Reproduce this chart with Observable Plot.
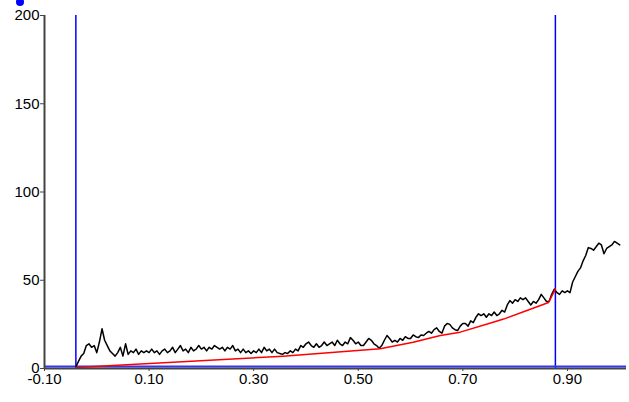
<!DOCTYPE html>
<html><head><meta charset="utf-8">
<script src="https://cdn.jsdelivr.net/npm/d3@7"></script>
<script src="https://cdn.jsdelivr.net/npm/@observablehq/plot@0.6"></script>
<style>
body{margin:0;background:#fff;font-family:"Liberation Sans",Arial,sans-serif}
#wrap{position:relative;width:629px;height:402px;overflow:hidden}
#legdot{position:absolute;left:16px;top:-2px;width:8px;height:8px;border-radius:50%;background:#0000ff}
</style>
</head><body><div id="wrap"><div id="legdot"></div></div>
<script>
// Measured signal (black trace)
const signalX = [-0.040,-0.035,-0.030,-0.025,-0.020,-0.015,-0.010,-0.005,0.000,0.005,
0.010,0.015,0.020,0.025,0.030,0.035,0.040,0.045,0.050,0.055,
0.060,0.065,0.070,0.075,0.080,0.085,0.090,0.095,0.100,0.105,
0.110,0.115,0.120,0.125,0.130,0.135,0.140,0.145,0.150,0.155,
0.160,0.165,0.170,0.175,0.180,0.185,0.190,0.195,0.200,0.205,
0.210,0.215,0.220,0.225,0.230,0.235,0.240,0.245,0.250,0.255,
0.260,0.265,0.270,0.275,0.280,0.285,0.290,0.295,0.300,0.305,
0.310,0.315,0.320,0.325,0.330,0.335,0.340,0.345,0.350,0.355,
0.360,0.365,0.370,0.375,0.380,0.385,0.390,0.395,0.400,0.405,
0.410,0.415,0.420,0.425,0.430,0.435,0.440,0.445,0.450,0.455,
0.460,0.465,0.470,0.475,0.480,0.485,0.490,0.495,0.500,0.505,
0.510,0.515,0.520,0.525,0.530,0.535,0.540,0.545,0.550,0.555,
0.560,0.565,0.570,0.575,0.580,0.585,0.590,0.595,0.600,0.605,
0.610,0.615,0.620,0.625,0.630,0.635,0.640,0.645,0.650,0.655,
0.660,0.665,0.670,0.675,0.680,0.685,0.690,0.695,0.700,0.705,
0.710,0.715,0.720,0.725,0.730,0.735,0.740,0.745,0.750,0.755,
0.760,0.765,0.770,0.775,0.780,0.785,0.790,0.795,0.800,0.805,
0.810,0.815,0.820,0.825,0.830,0.835,0.840,0.845,0.850,0.855,
0.860,0.865,0.870,0.875,0.880,0.885,0.890,0.895,0.900,0.905,
0.910,0.915,0.920,0.925,0.930,0.935,0.940,0.945,0.950,0.955,
0.960,0.965,0.970,0.975,0.980,0.985,0.990,0.995,1.000];
const signalY = [1,4,7,8.5,13,14,12,13,9,15,
22.5,16,13,10,8.5,7,9,12,7,14,
8,10,9,11,8,10,9,10,9,11,
9,10,8,10,11,9,10,12,9,11,
13,10,11,9,12,10,11,13,11,12,
10,12,11,13,12,11,12,10,12,11,
13,10,11,9,11,9,10,8.5,10,9,
11,9,12,10,11,9,11,9,8.5,8,
9,8.5,10,9,11,10,13,12,14,15,
13,12,14,12,13,15,13,14,15,13,
16,14,13,15,14,17.5,16,14,15,13,
13,15,17,16,14,13,11.5,13,16,18.7,
17,15,16,15,17,16,18,17,17,19,
18,17.5,19,18.7,20,21,20,22,23,21,
20,24,25.5,25,23,22,21.5,24,25.5,25.5,
24,27,26,29,31,30,31,29,31,30,
32,30,31,33,32,36,38.5,37,39,38,
40,39,40,38,36,38,37,39,42,40,
38,38,42,45,43,42,44,43,44,43,
49,52,55,57,61,64,68.5,68,67,69,
71,70,65,68,69,70,72,71,70];
// Fitted baseline (red)
const baselineX = [-0.040,0.356,0.542,0.605,0.657,0.695,0.750,0.778,0.820,0.864,0.877];
const baselineY = [0.5,7,11.2,14.9,18.7,20.6,25.5,28,32.6,37.4,45];
// Integration limits (blue)
const limitX = [-0.04,0.877];
const floorLevel = [1.2];
const xTicks = [-0.1,0.1,0.3,0.5,0.7,0.9];
const yTicks = [0,50,100,150,200];

const signal = signalX.map((x,i)=>({x, y: signalY[i]}));
const baseline = baselineX.map((x,i)=>({x, y: baselineY[i]}));

const chart = Plot.plot({
  width: 629, height: 402,
  marginLeft: 44, marginRight: 3, marginTop: 15, marginBottom: 34,
  style: {fontFamily: '"Liberation Sans", Arial, sans-serif', fontSize: "15px", color: "#000", background: "#fff"},
  x: {domain: [-0.1, 1.013]},
  y: {domain: [0, 200]},
  marks: [
    Plot.ruleX(limitX, {y1: 0, y2: 200, stroke: "#0000ff", strokeWidth: 1.5}),
    Plot.ruleY(floorLevel, {x1: -0.1, x2: 1.013, stroke: "#3333ff", strokeWidth: 2}),
    Plot.line(signal, {x: "x", y: "y", stroke: "#000", strokeWidth: 1.5}),
    Plot.line(baseline, {x: "x", y: "y", stroke: "#ff0000", strokeWidth: 1.5}),
    Plot.ruleX([-0.1], {y1: 0, y2: 200, stroke: "#444", strokeWidth: 2}),
    Plot.ruleY([0], {x1: -0.1, x2: 1.013, stroke: "#444", strokeWidth: 2}),
    Plot.axisY({ticks: yTicks, tickSize: 4, tickPadding: 1, stroke: "#444", fill: "#000", label: null, tickFormat: d => String(d)}),
    Plot.axisX({ticks: xTicks, tickSize: 3, tickPadding: 2, stroke: "#444", fill: "#000", label: null, tickFormat: d => d.toFixed(2)})
  ]
});
document.getElementById("wrap").appendChild(chart);
</script>
</body></html>
